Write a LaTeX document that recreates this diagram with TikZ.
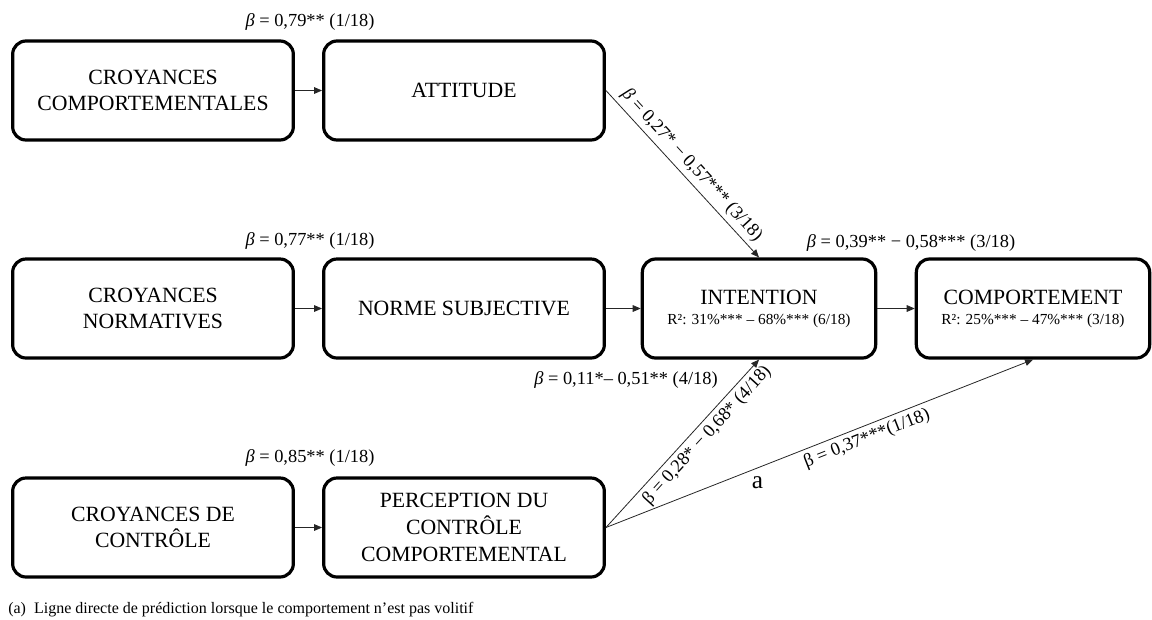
\documentclass[tikz,border=0pt]{standalone}
\usepackage{fontspec}
\setmainfont{Liberation Serif}
\usetikzlibrary{arrows.meta}

\begin{document}
\begin{tikzpicture}[x=0.75pt,y=-0.75pt,
  box/.style={draw, line width=2.4pt, rounded corners=10pt, align=center,
    minimum height=74.25pt, inner sep=2pt, font=\fontsize{16.3}{20}\selectfont},
  widebox/.style={box, minimum width=210.5pt},
  slimbox/.style={box, minimum width=175pt},
  link/.style={draw=black!85, line width=0.6pt, -{Triangle[length=6pt,width=5pt]}},
  coef/.style={font=\fontsize{13.8}{16}\selectfont, inner sep=3pt},
  rsq/.style={font=\fontsize{11.5}{13}\selectfont}
]
\useasboundingbox (0,0) rectangle (1152,619);

% boxes of the model
\node[widebox] (cb)   at (153,90.5)  {CROYANCES\\COMPORTEMENTALES};
\node[widebox] (att)  at (464,90.5)  {ATTITUDE};
\node[widebox] (cn)   at (153,308.5) {CROYANCES\\NORMATIVES};
\node[widebox] (ns)   at (464,308.5) {NORME SUBJECTIVE};
\node[slimbox] (int)  at (759,308.5)
  {INTENTION\\[-5pt]{\fontsize{11.5}{13}\selectfont R²: 31\%*** – 68\%*** (6/18)}};
\node[slimbox] (comp) at (1033,308.5)
  {COMPORTEMENT\\[-5pt]{\fontsize{11.5}{13}\selectfont R²: 25\%*** – 47\%*** (3/18)}};
\node[widebox] (cc)   at (153,527.5) {CROYANCES DE\\CONTRÔLE};
\node[widebox] (pcc)  at (464,527.5) {PERCEPTION DU\\CONTRÔLE\\COMPORTEMENTAL};

% horizontal paths
\draw[link] (cb) -- (att);
\draw[link] (cn) -- (ns);
\draw[link] (cc) -- (pcc);
\draw[link] (ns) -- (int);
\draw[link] (int) -- (comp);

% oblique paths
\draw[link] (att.east) -- node[coef, sloped, above, pos=0.5]
  {\textit{β} = 0,27* − 0,57*** (3/18)} (int.north);
\draw[link] (pcc.east) -- node[coef, sloped, below, pos=0.6]
  {β = 0,28* − 0,68* (4/18)} (int.south);
\draw[link] (pcc.east) -- node[coef, sloped, below, pos=0.6]
  {β = 0,37***(1/18)}
  node[pos=0.355, below=3pt, font=\fontsize{19}{22}\selectfont] (mark) {a} (comp.south);

% coefficients
\node[coef] (k1) at (310,22)  {\textit{β} = 0,79** (1/18)};
\node[coef] (k2) at (310,241) {\textit{β} = 0,77** (1/18)};
\node[coef] (k3) at (310,458) {\textit{β} = 0,85** (1/18)};
\node[coef] (k4) at (911,243) {\textit{β} = 0,39** − 0,58*** (3/18)};
\node[coef] (k5) at (626,380) {\textit{β} = 0,11*– 0,51** (4/18)};

% note
\node[anchor=base west, inner sep=0pt, font=\fontsize{12}{14}\selectfont] (note) at (8,613)
  {(a)\ \ Ligne directe de prédiction lorsque le comportement n’est pas volitif};
\end{tikzpicture}
\end{document}
